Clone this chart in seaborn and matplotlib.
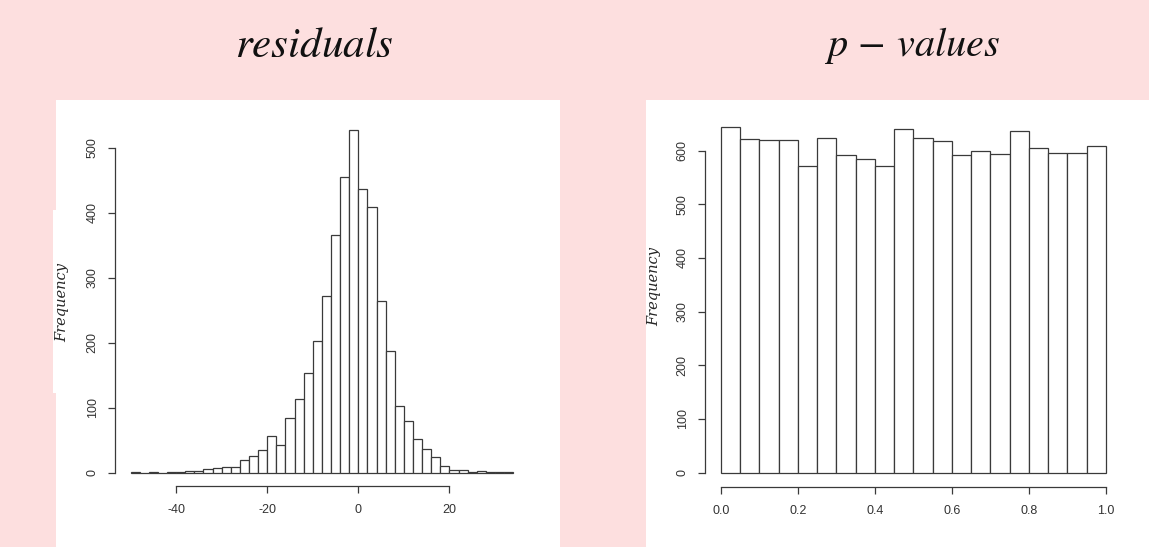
import numpy as np
import pandas as pd
import matplotlib.pyplot as plt
import seaborn as sns
from matplotlib.patches import Rectangle

sns.set_theme(style="white")
plt.rcParams['font.family'] = ['Liberation Sans', 'DejaVu Sans']
plt.rcParams['mathtext.fontset'] = 'stix'

PINK = "#fddfdf"
EDGE = "#3a3a3a"

# residuals histogram: bin edges -50..34 step 2, counts
resid_edges = list(range(-50, 36, 2))
resid_counts = [1, 0, 1, 0, 1, 1, 2, 3, 5, 7, 8, 8, 20, 26, 35, 56, 43, 84,
                113, 154, 203, 272, 366, 455, 528, 436, 409, 264, 187, 103,
                80, 52, 36, 24, 11, 4, 4, 1, 2, 1, 1, 1]
resid_xticks = [-40, -20, 0, 20]
resid_yticks = [0, 100, 200, 300, 400, 500]

# p-values histogram: 20 bins of width 0.05
p_edges = [0.0, 0.05, 0.1, 0.15, 0.2, 0.25, 0.3, 0.35, 0.4, 0.45, 0.5,
           0.55, 0.6, 0.65, 0.7, 0.75, 0.8, 0.85, 0.9, 0.95, 1.0]
p_counts = [643, 622, 619, 620, 571, 624, 591, 584, 571, 640,
            624, 617, 592, 599, 594, 636, 604, 596, 596, 609]
p_xticks = [0.0, 0.2, 0.4, 0.6, 0.8, 1.0]
p_xlabels = ["0.0", "0.2", "0.4", "0.6", "0.8", "1.0"]
p_yticks = [0, 100, 200, 300, 400, 500, 600]

W, H = 1149, 547
fig = plt.figure(figsize=(W / 100, H / 100), dpi=100)
fig.patch.set_facecolor(PINK)

# white panels behind each chart
for x0, x1 in [(56, 560), (646, 1149)]:
    fig.patches.append(Rectangle((x0 / W, 0), (x1 - x0) / W, (H - 100) / H,
                                 transform=fig.transFigure, facecolor="white",
                                 edgecolor="none", zorder=-5))
fig.patches.append(Rectangle((53 / W, (H - 393) / H), 4 / W, 183 / H,
                             transform=fig.transFigure, facecolor="white",
                             edgecolor="none", zorder=-5))


def r_hist(ax, edges, counts, xticks, xlabels, yticks):
    centers = [(a + b) / 2 for a, b in zip(edges[:-1], edges[1:])]
    df = pd.DataFrame({"x": centers, "n": counts})
    sns.histplot(data=df, x="x", weights="n", bins=list(edges), ax=ax,
                 color="white", edgecolor=EDGE, linewidth=0.9, alpha=1)
    span = edges[-1] - edges[0]
    ax.set_xlim(edges[0] - 0.04 * span, edges[-1] + 0.04 * span)
    top = max(counts)
    ax.set_ylim(-0.04 * top, top * 1.04)
    ax.set_facecolor("none")
    for s in ["top", "right"]:
        ax.spines[s].set_visible(False)
    for s in ["left", "bottom"]:
        ax.spines[s].set_color(EDGE)
        ax.spines[s].set_linewidth(0.9)
    ax.spines["bottom"].set_bounds(xticks[0], xticks[-1])
    ax.spines["left"].set_bounds(yticks[0], yticks[-1])
    ax.set_xticks(xticks)
    ax.set_xticklabels(xlabels)
    ax.set_yticks(yticks)
    ax.set_yticklabels([str(v) for v in yticks], rotation=90, va="center")
    ax.tick_params(axis="both", direction="out", length=5, width=0.9,
                   color=EDGE, labelsize=9, labelcolor="#333333",
                   bottom=True, left=True)
    ax.tick_params(axis="x", pad=8)
    ax.tick_params(axis="y", pad=7)
    ax.set_xlabel("")
    ax.set_ylabel("")
    ax.grid(False)


ax1 = fig.add_axes([115.3 / W, (H - 486.4) / H, 413.2 / W, 370.5 / H])
r_hist(ax1, resid_edges, resid_counts, resid_xticks,
       [str(v) for v in resid_xticks], resid_yticks)

ax2 = fig.add_axes([705.3 / W, (H - 486.5) / H, 416.1 / W, 372.9 / H])
r_hist(ax2, p_edges, p_counts, p_xticks, p_xlabels, p_yticks)

# y labels
fig.text(62 / W, 1 - 302 / H, "Frequency", rotation=90, ha="center",
         va="center", fontsize=10.5, fontstyle="italic", family="DejaVu Serif")
fig.text(654 / W, 1 - 287 / H, "Frequency", rotation=90, ha="center",
         va="center", fontsize=10.5, fontstyle="italic", family="DejaVu Serif")

# panel titles
fig.text(314 / W, 1 - 57 / H, r"$residuals$", ha="center", va="baseline",
         fontsize=31, color="#111111")
fig.text(912 / W, 1 - 56 / H, r"$p\,-\,values$", ha="center", va="baseline",
         fontsize=29, color="#111111")

fig.savefig("out.png", dpi=100, facecolor=fig.get_facecolor())
